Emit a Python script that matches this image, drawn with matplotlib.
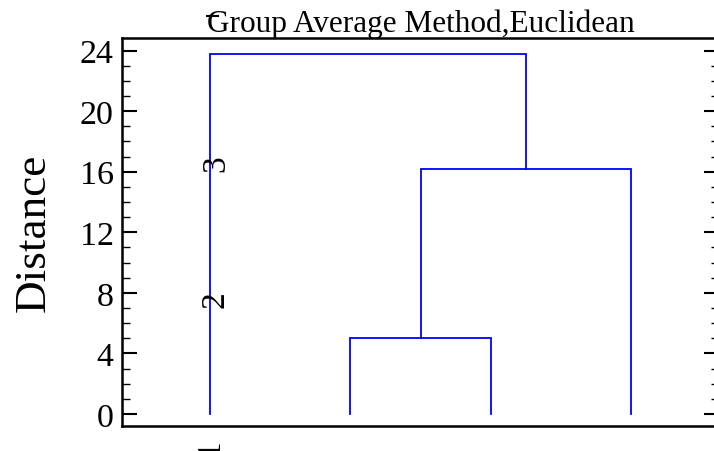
import matplotlib
matplotlib.use("Agg")
import matplotlib.pyplot as plt
from matplotlib.lines import Line2D
from matplotlib.ticker import MultipleLocator

plt.rcParams.update({"font.family": "Liberation Serif", "mathtext.fontset": "stix"})

# leaves in plotting order, and merges as (left member, right member, height)
leaves = [1, 2, 3, 4]
merges = [("L2", "L3", 5.0), ("M0", "L4", 16.2), ("L1", "M1", 23.8)]
# labels drawn along the first leaf: text, y position
leaf_text = ["2", "3"]
leaf_text_y = [7.6, 16.6]
bottom_label = "1"

W, H = 714, 452
fig = plt.figure(figsize=(W / 100, H / 100), dpi=100)
ax = fig.add_axes([122 / W, 25 / H, 597 / W, 388 / H])

# walk the merges, drawing the usual upside-down U for each
pos = {f"L{k}": (float(k), 0.0) for k in leaves}
for i, (a, b, h) in enumerate(merges):
    xa, ya = pos[a]
    xb, yb = pos[b]
    ax.plot([xa, xa, xb, xb], [ya, h, h, yb], color="#0000ff", lw=1.3,
            solid_joinstyle="miter", clip_on=False)
    pos[f"M{i}"] = ((xa + xb) / 2, h)

for t, y in zip(leaf_text, leaf_text_y):
    ax.text(leaves[0] + 0.04, y, t, rotation=90, ha="center", va="center", fontsize=24)

ax.set_xlim(leaves[0] - 0.627, leaves[-1] + 0.627)
ax.set_ylim(-0.79, 24.83)
ax.set_xticks([leaves[0]])
ax.set_xticklabels([bottom_label], rotation=90, fontsize=24)
ax.tick_params(axis="x", length=0, pad=9)

ax.yaxis.set_major_locator(MultipleLocator(4))
ax.yaxis.set_minor_locator(MultipleLocator(1))
ax.tick_params(axis="y", which="major", direction="in", length=11, width=1.5,
               labelsize=24.5, right=True, pad=6)
ax.tick_params(axis="y", which="minor", direction="in", length=6, width=1, right=True)

for s in ax.spines.values():
    s.set_linewidth(1.8)

ax.set_ylabel("Distance", fontsize=32.5, labelpad=19)
ax.set_title("Group Average Method,Euclidean", fontsize=22.5, pad=5)
# stray stroke through the leading "G" of the title
fig.add_artist(Line2D([207 / W, 218 / W], [1 - 17 / H, 1 - 17 / H],
                      color="black", lw=1.5, transform=fig.transFigure))

fig.savefig("out.png", dpi=100)
